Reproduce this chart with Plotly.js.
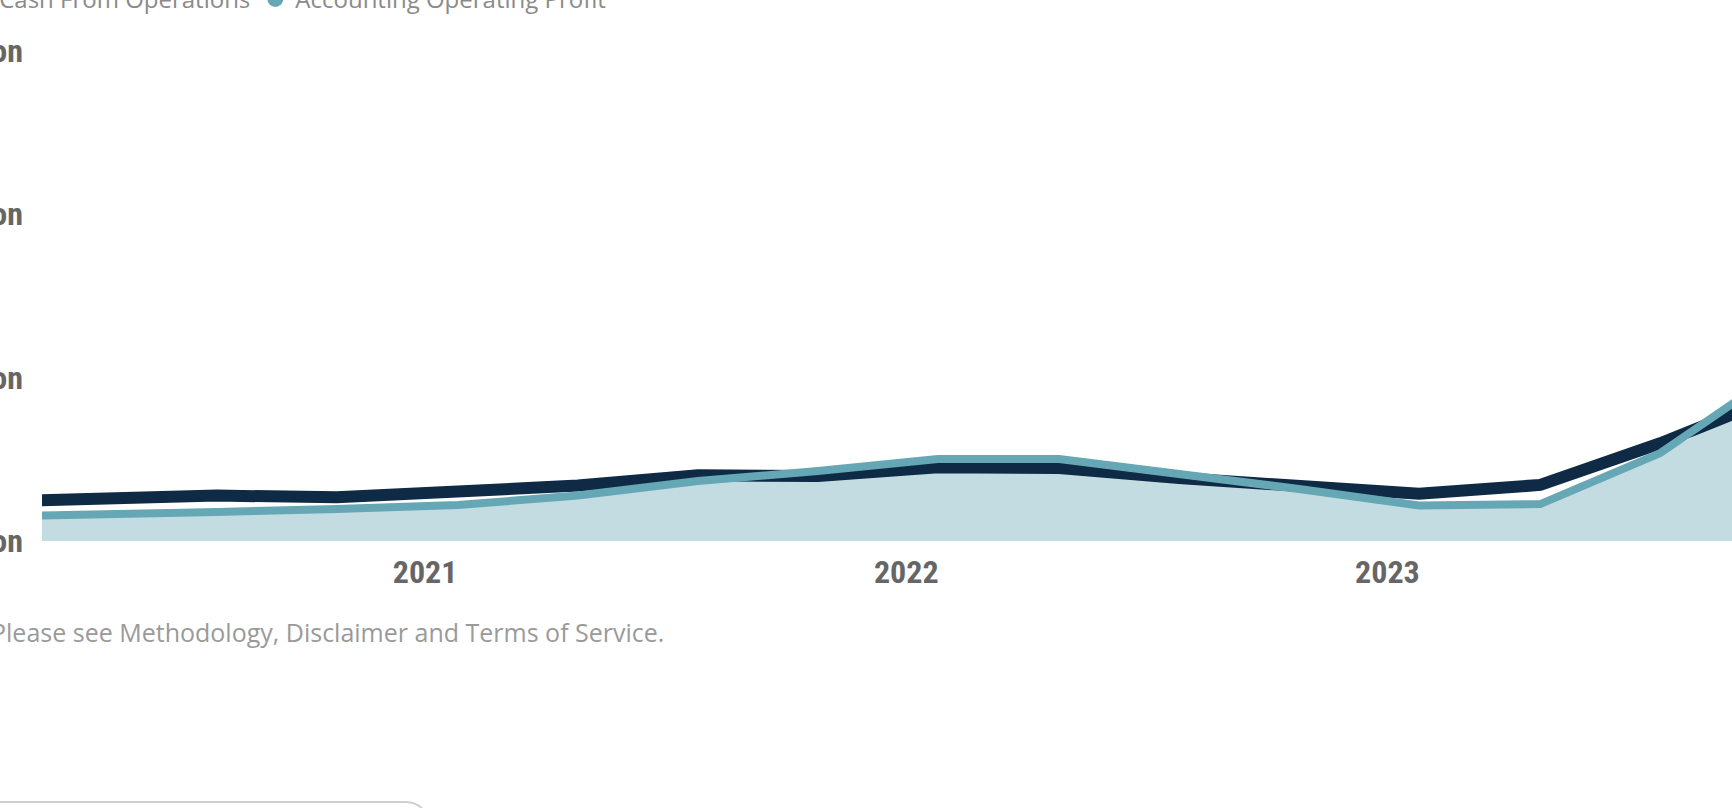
<!DOCTYPE html>
<html>
<head>
<meta charset="utf-8">
<script src="https://cdn.plot.ly/plotly-3.0.1.min.js"></script>
<style>
  html, body { margin: 0; padding: 0; background: #ffffff; overflow: hidden; width: 1732px; height: 808px; }
  #chart { position: absolute; left: -200px; top: -60px; width: 2100px; height: 900px; }
  #box { position: absolute; left: -100px; top: 801px; width: 530px; height: 100px; border: 2px solid #cfcfcf; border-radius: 24px; box-sizing: border-box; }
</style>
</head>
<body>
<div id="chart"></div>
<div id="box"></div>
<script>
// Quarter dates
const dates = [
  '2020-01-26', '2020-04-27', '2020-07-27', '2020-10-26',
  '2021-01-26', '2021-04-27', '2021-07-27', '2021-10-26',
  '2022-01-25', '2022-04-27', '2022-07-27', '2022-10-26',
  '2023-01-25', '2023-04-27', '2023-07-27', '2023-10-26'
];
// Values in $ billions
const cashFromOperations = [
  0.239, 0.251, 0.278, 0.267,
  0.294, 0.339, 0.402, 0.398,
  0.451, 0.446, 0.385, 0.336,
  0.289, 0.343, 0.598, 0.893
];
const accountingOperatingProfit = [
  0.147, 0.168, 0.177, 0.196,
  0.220, 0.278, 0.367, 0.428,
  0.502, 0.502, 0.416, 0.318,
  0.217, 0.226, 0.538, 1.040
];
const seriesNames = ['Cash From Operations', 'Accounting Operating Profit'];
const yTickVals = [0, 1, 2, 3];
const yTickText = ['$0 Billion', '$1 Billion', '$2 Billion', '$3 Billion'];
const xTickVals = ['2021-01-01', '2022-01-01', '2023-01-01'];
const xTickText = ['2021', '2022', '2023'];
const footerText = 'Please see Methodology, Disclaimer and Terms of Service.';

const navy = '#0e2a44';
const teal = '#66a7b5';
const fillColor = '#c3dce1';

const lowerEnvelope = cashFromOperations.map((v, i) => Math.min(v, accountingOperatingProfit[i]));

const tickFont = { family: 'Liberation Sans Narrow, Roboto Condensed, Roboto, sans-serif', size: 32, color: '#666666', weight: 'bold' };

const traces = [
  { x: dates, y: lowerEnvelope, type: 'scatter', mode: 'lines', line: { width: 0, color: fillColor },
    fill: 'tozeroy', fillcolor: fillColor, showlegend: false, hoverinfo: 'skip' },
  { x: dates, y: cashFromOperations, type: 'scatter', mode: 'lines', name: seriesNames[0],
    line: { color: navy, width: 12 }, showlegend: false },
  { x: dates, y: accountingOperatingProfit, type: 'scatter', mode: 'lines', name: seriesNames[1],
    line: { color: teal, width: 8 }, showlegend: false },
  { x: [null], y: [null], type: 'scatter', mode: 'markers', name: seriesNames[0],
    marker: { color: navy, size: 17 }, showlegend: true },
  { x: [null], y: [null], type: 'scatter', mode: 'markers', name: seriesNames[1],
    marker: { color: teal, size: 17 }, showlegend: true }
];

const layout = {
  width: 2100, height: 900,
  margin: { l: 242, r: 100, t: 77.8, b: 299, pad: 0 },
  paper_bgcolor: '#ffffff', plot_bgcolor: '#ffffff',
  showlegend: true,
  legend: {
    orientation: 'h', x: -0.0471, xanchor: 'left', y: 1.0357, yanchor: 'middle',
    font: { family: 'Open Sans, sans-serif', size: 24, color: '#8a8a8a' },
    itemsizing: 'trace', bgcolor: 'rgba(0,0,0,0)'
  },
  xaxis: {
    type: 'date', range: ['2020-03-16 10:00', '2023-11-10'],
    tickvals: xTickVals, ticktext: xTickText, tickfont: tickFont,
    showgrid: false, zeroline: false, showline: false, ticks: '',
    ticklabelstandoff: 9, fixedrange: true
  },
  yaxis: {
    range: [0, 3.2], tickvals: yTickVals, ticktext: yTickText, tickfont: tickFont,
    showgrid: false, zeroline: false, showline: false, ticks: '',
    ticklabelstandoff: 18, fixedrange: true
  },
  annotations: [{
    text: footerText, xref: 'paper', yref: 'paper', x: 0.355, y: -0.1739,
    xanchor: 'right', yanchor: 'middle', showarrow: false,
    font: { family: 'Open Sans, sans-serif', size: 25, color: '#9a9a9a' }
  }]
};

Plotly.newPlot('chart', traces, layout, { displayModeBar: false, staticPlot: true });
</script>
</body>
</html>
